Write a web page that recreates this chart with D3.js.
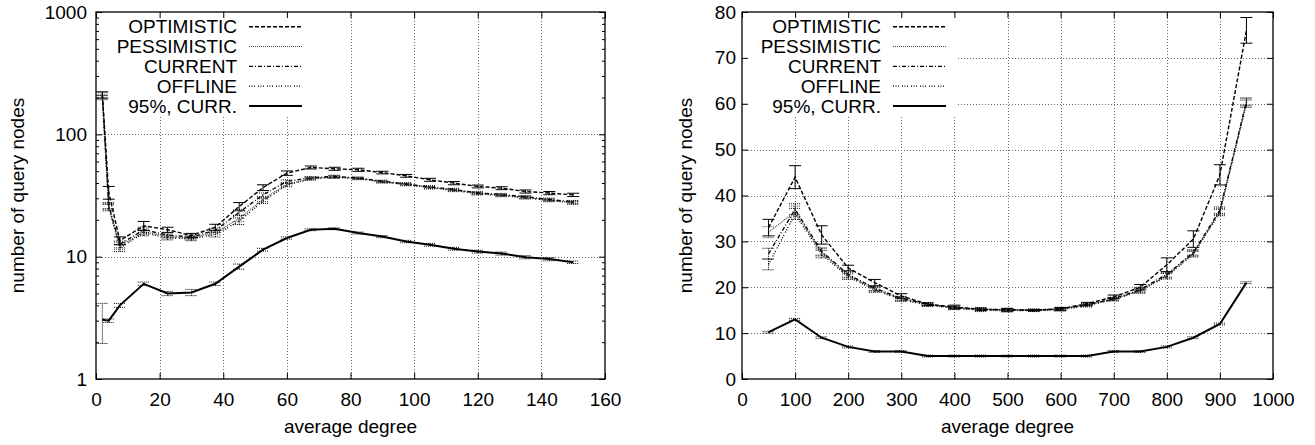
<!DOCTYPE html>
<html>
<head>
<meta charset="utf-8">
<script src="https://cdn.jsdelivr.net/npm/d3@7"></script>
<style>
    body { margin: 0; background: #fff; }
    svg text { font-family: "Liberation Sans", Arial, sans-serif; font-size: 19px; fill: #000; }
</style>
</head>
<body>
<svg id="chart" width="1315" height="445"></svg>
<script>
// series names, same for both panels
const seriesNames = ["OPTIMISTIC", "PESSIMISTIC", "CURRENT", "OFFLINE", "95%, CURR."];

// left panel (log scale)
const leftX = [2, 4, 7.5, 15, 22.5, 30, 37.5, 45, 52.5, 60, 67.5, 75, 82.5, 90, 97.5, 105, 112.5, 120, 127.5, 135, 142.5, 150];
const leftOptimistic = [210, 33.5, 13.5, 17.9, 16.6, 14.9, 17.4, 25.7, 36.7, 48.2, 53.6, 52.3, 51.3, 48.7, 45.8, 42.5, 39.9, 37.5, 36.3, 34.1, 33.1, 32.0];
const leftPessimistic = [205, 25.7, 12.2, 16.0, 14.6, 14.2, 15.8, 20.5, 29.5, 39.0, 43.5, 45.0, 43.7, 41.0, 39.0, 36.8, 35.0, 32.9, 31.8, 30.5, 29.0, 27.7];
const leftCurrent = [215, 26.2, 12.6, 16.6, 15.0, 14.5, 16.4, 23.0, 32.0, 41.2, 44.2, 45.3, 44.0, 41.4, 39.4, 37.2, 35.4, 33.3, 32.2, 30.9, 29.4, 28.1];
const leftOffline = [200, 25.2, 11.8, 15.6, 14.3, 14.0, 15.2, 19.5, 28.5, 38.5, 43.2, 44.6, 43.4, 40.8, 38.8, 36.6, 34.8, 32.7, 31.6, 30.3, 28.8, 27.5];
const left95 = [3.05, 3.0, 4.0, 6.0, 5.0, 5.1, 6.0, 8.3, 11.4, 14.2, 16.6, 16.9, 15.6, 14.6, 13.3, 12.5, 11.6, 11.0, 10.6, 9.9, 9.55, 9.0];
const leftOptErr = [12, 4, 1, 1.5, 0.8, 0.6, 1, 2, 2, 2, 1.5, 1.5, 1.5, 1.2, 1.2, 1.2, 1.2, 1.0, 1.0, 1.0, 1.0, 1.0];
const leftOthErr = [8, 1.5, 0.8, 0.8, 0.6, 0.5, 0.7, 1.2, 1.2, 1.2, 1.0, 1.0, 0.8, 0.8, 0.8, 0.8, 0.8, 0.7, 0.7, 0.7, 0.7, 0.7];
const left95Err = [1.1, 0.1, 0.15, 0.2, 0.2, 0.3, 0.2, 0.4, 0.3, 0.3, 0.3, 0.3, 0.3, 0.3, 0.3, 0.3, 0.3, 0.3, 0.3, 0.3, 0.3, 0.2];
const leftTicksX = [0, 20, 40, 60, 80, 100, 120, 140, 160];
const leftTicksY = [1, 10, 100, 1000];

// right panel (linear scale)
const rightX = [50, 100, 150, 200, 250, 300, 350, 400, 450, 500, 550, 600, 650, 700, 750, 800, 850, 900, 950];
const rightOptimistic = [33, 44, 31.4, 24.2, 21, 18.1, 16.3, 15.7, 15.2, 15.1, 15.0, 15.3, 16.4, 17.9, 20.0, 24.9, 30.5, 44.5, 76];
const rightPessimistic = [32, 36.5, 27.6, 22.6, 19.6, 17.5, 16.2, 15.5, 15.1, 15.0, 15.0, 15.2, 16.1, 17.4, 19.3, 22.6, 27.4, 36.5, 60.3];
const rightCurrent = [27.3, 37, 27.8, 22.8, 19.8, 17.6, 16.3, 15.6, 15.2, 15.1, 15.0, 15.3, 16.2, 17.5, 19.5, 22.8, 27.6, 36.8, 60.5];
const rightOffline = [25, 36, 27.2, 22.3, 19.4, 17.3, 16.1, 15.4, 15.0, 14.9, 14.9, 15.1, 16.0, 17.3, 19.2, 22.4, 27.2, 36.3, 60.0];
const right95 = [10.2, 13, 9, 7, 6, 6, 5, 5, 5, 5, 5, 5, 5, 6, 6, 7, 9, 12, 21];
const rightOptErr = [1.8, 2.5, 2, 0.6, 0.7, 0.5, 0.3, 0.4, 0.3, 0.3, 0.2, 0.3, 0.3, 0.4, 0.6, 1.5, 1.8, 2.2, 2.8];
const rightOthErr = [1.2, 1.2, 0.8, 0.6, 0.5, 0.4, 0.3, 0.3, 0.3, 0.3, 0.2, 0.3, 0.3, 0.3, 0.5, 0.6, 0.6, 0.7, 0.8];
const right95Err = [0.2, 0.2, 0.2, 0.2, 0.2, 0.2, 0.2, 0.2, 0.2, 0.2, 0.2, 0.2, 0.2, 0.2, 0.2, 0.2, 0.2, 0.2, 0.2];
const rightTicksX = [0, 100, 200, 300, 400, 500, 600, 700, 800, 900, 1000];
const rightTicksY = [0, 10, 20, 30, 40, 50, 60, 70, 80];

const xLabel = "average degree";
const yLabel = "number of query nodes";

// line styles in legend order
const styles = [
    { dash: "4,2", width: 1.4, color: "#000" },
    { dash: "1,1", width: 1.2, color: "#444" },
    { dash: "4,2,1,2", width: 1.3, color: "#000" },
    { dash: "1,1.5,1,1.5,1,3", width: 1.4, color: "#000" },
    { dash: null, width: 2, color: "#000" }
];

const svg = d3.select("#chart");

function drawChart(cfg) {
    const g = svg.append("g");
    const x = d3.scaleLinear().domain(cfg.xDomain).range([cfg.left, cfg.right]);
    const y = cfg.log
        ? d3.scaleLog().domain(cfg.yDomain).range([cfg.bottom, cfg.top])
        : d3.scaleLinear().domain(cfg.yDomain).range([cfg.bottom, cfg.top]);

    // grid
    const grid = g.append("g")
        .attr("stroke", "#666")
        .attr("stroke-width", 1)
        .attr("stroke-dasharray", "1,2");
    cfg.ticksX.slice(1, -1).forEach(t => {
        grid.append("line")
            .attr("x1", Math.round(x(t)) + 0.5).attr("x2", Math.round(x(t)) + 0.5)
            .attr("y1", cfg.top).attr("y2", cfg.bottom);
    });
    cfg.ticksY.slice(1, -1).forEach(t => {
        grid.append("line")
            .attr("y1", Math.round(y(t)) + 0.5).attr("y2", Math.round(y(t)) + 0.5)
            .attr("x1", cfg.left).attr("x2", cfg.right);
    });

    // legend background hides the grid
    g.append("rect")
        .attr("x", cfg.legendRight - 133)
        .attr("y", cfg.top + 1)
        .attr("width", 210)
        .attr("height", 104)
        .attr("fill", "#fff");

    // axes with inward ticks
    g.append("g")
        .attr("transform", `translate(0,${cfg.bottom})`)
        .call(d3.axisBottom(x).tickValues(cfg.ticksX).tickSize(-6).tickPadding(14).tickFormat(d3.format("d")))
        .call(a => a.select(".domain").remove());
    g.append("g")
        .attr("transform", `translate(0,${cfg.top})`)
        .call(d3.axisTop(x).tickValues(cfg.ticksX).tickSize(-6).tickFormat(""))
        .call(a => a.select(".domain").remove());
    g.append("g")
        .attr("transform", `translate(${cfg.left},0)`)
        .call(d3.axisLeft(y).tickValues(cfg.ticksY).tickSize(-6).tickPadding(cfg.yPad).tickFormat(d3.format("d")))
        .call(a => a.select(".domain").remove());
    g.append("g")
        .attr("transform", `translate(${cfg.right},0)`)
        .call(d3.axisRight(y).tickValues(cfg.ticksY).tickSize(-6).tickFormat(""))
        .call(a => a.select(".domain").remove());

    if (cfg.log) {
        const minors = [];
        for (let d = 1; d < 1000; d *= 10) {
            for (let k = 2; k <= 9; k++) minors.push(d * k);
        }
        g.append("g")
            .attr("transform", `translate(${cfg.left},0)`)
            .call(d3.axisLeft(y).tickValues(minors).tickSize(-3).tickFormat(""))
            .call(a => a.select(".domain").remove());
        g.append("g")
            .attr("transform", `translate(${cfg.right},0)`)
            .call(d3.axisRight(y).tickValues(minors).tickSize(-3).tickFormat(""))
            .call(a => a.select(".domain").remove());
    }
    g.selectAll(".tick text").style("font-size", "19px").attr("fill", "#000");
    g.selectAll(".tick line").attr("stroke", "#000");

    // border
    g.append("rect")
        .attr("x", cfg.left).attr("y", cfg.top)
        .attr("width", cfg.right - cfg.left).attr("height", cfg.bottom - cfg.top)
        .attr("fill", "none").attr("stroke", "#000").attr("stroke-width", 1.3);

    // series, drawn back to front
    const line = d3.line().x(d => x(d.x)).y(d => y(d.v));
    [4, 3, 1, 2, 0].forEach(i => {
        const s = cfg.series[i];
        const st = styles[i];
        const pts = cfg.xs.map((xv, j) => ({ x: xv, v: s[j], e: cfg.errs[i][j] }));

        g.append("path")
            .datum(pts)
            .attr("d", line)
            .attr("fill", "none")
            .attr("stroke", st.color)
            .attr("stroke-width", st.width)
            .attr("stroke-dasharray", st.dash);

        const eb = g.append("g")
            .attr("stroke", st.color)
            .attr("stroke-width", 1)
            .attr("stroke-dasharray", i === 0 ? null : "1,1");
        pts.forEach(p => {
            const px = x(p.x);
            const y1 = y(p.v - p.e), y2 = y(p.v + p.e);
            eb.append("line").attr("x1", px).attr("x2", px).attr("y1", y1).attr("y2", y2);
            eb.append("line").attr("x1", px - 6).attr("x2", px + 6).attr("y1", y1).attr("y2", y1);
            eb.append("line").attr("x1", px - 6).attr("x2", px + 6).attr("y1", y2).attr("y2", y2);
        });
    });

    // legend
    seriesNames.forEach((name, i) => {
        const cy = cfg.top + 14.7 + i * 19.8;
        g.append("text")
            .attr("x", cfg.legendRight)
            .attr("y", cy)
            .attr("dy", "0.35em")
            .attr("text-anchor", "end")
            .text(name);
        g.append("line")
            .attr("x1", cfg.legendRight + 12).attr("x2", cfg.legendRight + 65)
            .attr("y1", cy).attr("y2", cy)
            .attr("stroke", styles[i].color)
            .attr("stroke-width", styles[i].width)
            .attr("stroke-dasharray", styles[i].dash);
    });

    // axis titles
    g.append("text")
        .attr("x", (cfg.left + cfg.right) / 2)
        .attr("y", 433)
        .attr("text-anchor", "middle")
        .text(xLabel);
    g.append("text")
        .attr("transform", `translate(${cfg.yLabelX},${(cfg.top + cfg.bottom) / 2}) rotate(-90)`)
        .attr("text-anchor", "middle")
        .text(yLabel);
}

drawChart({
    left: 96, right: 605, top: 12, bottom: 379,
    xDomain: [0, 160], yDomain: [1, 1000], log: true,
    ticksX: leftTicksX, ticksY: leftTicksY, yPad: 9,
    xs: leftX,
    series: [leftOptimistic, leftPessimistic, leftCurrent, leftOffline, left95],
    errs: [leftOptErr, leftOthErr, leftOthErr, leftOthErr, left95Err],
    legendRight: 237, yLabelX: 24
});

drawChart({
    left: 742, right: 1273, top: 12, bottom: 379,
    xDomain: [0, 1000], yDomain: [0, 80], log: false,
    ticksX: rightTicksX, ticksY: rightTicksY, yPad: 6,
    xs: rightX,
    series: [rightOptimistic, rightPessimistic, rightCurrent, rightOffline, right95],
    errs: [rightOptErr, rightOthErr, rightOthErr, rightOthErr, right95Err],
    legendRight: 881, yLabelX: 692
});
</script>
</body>
</html>
